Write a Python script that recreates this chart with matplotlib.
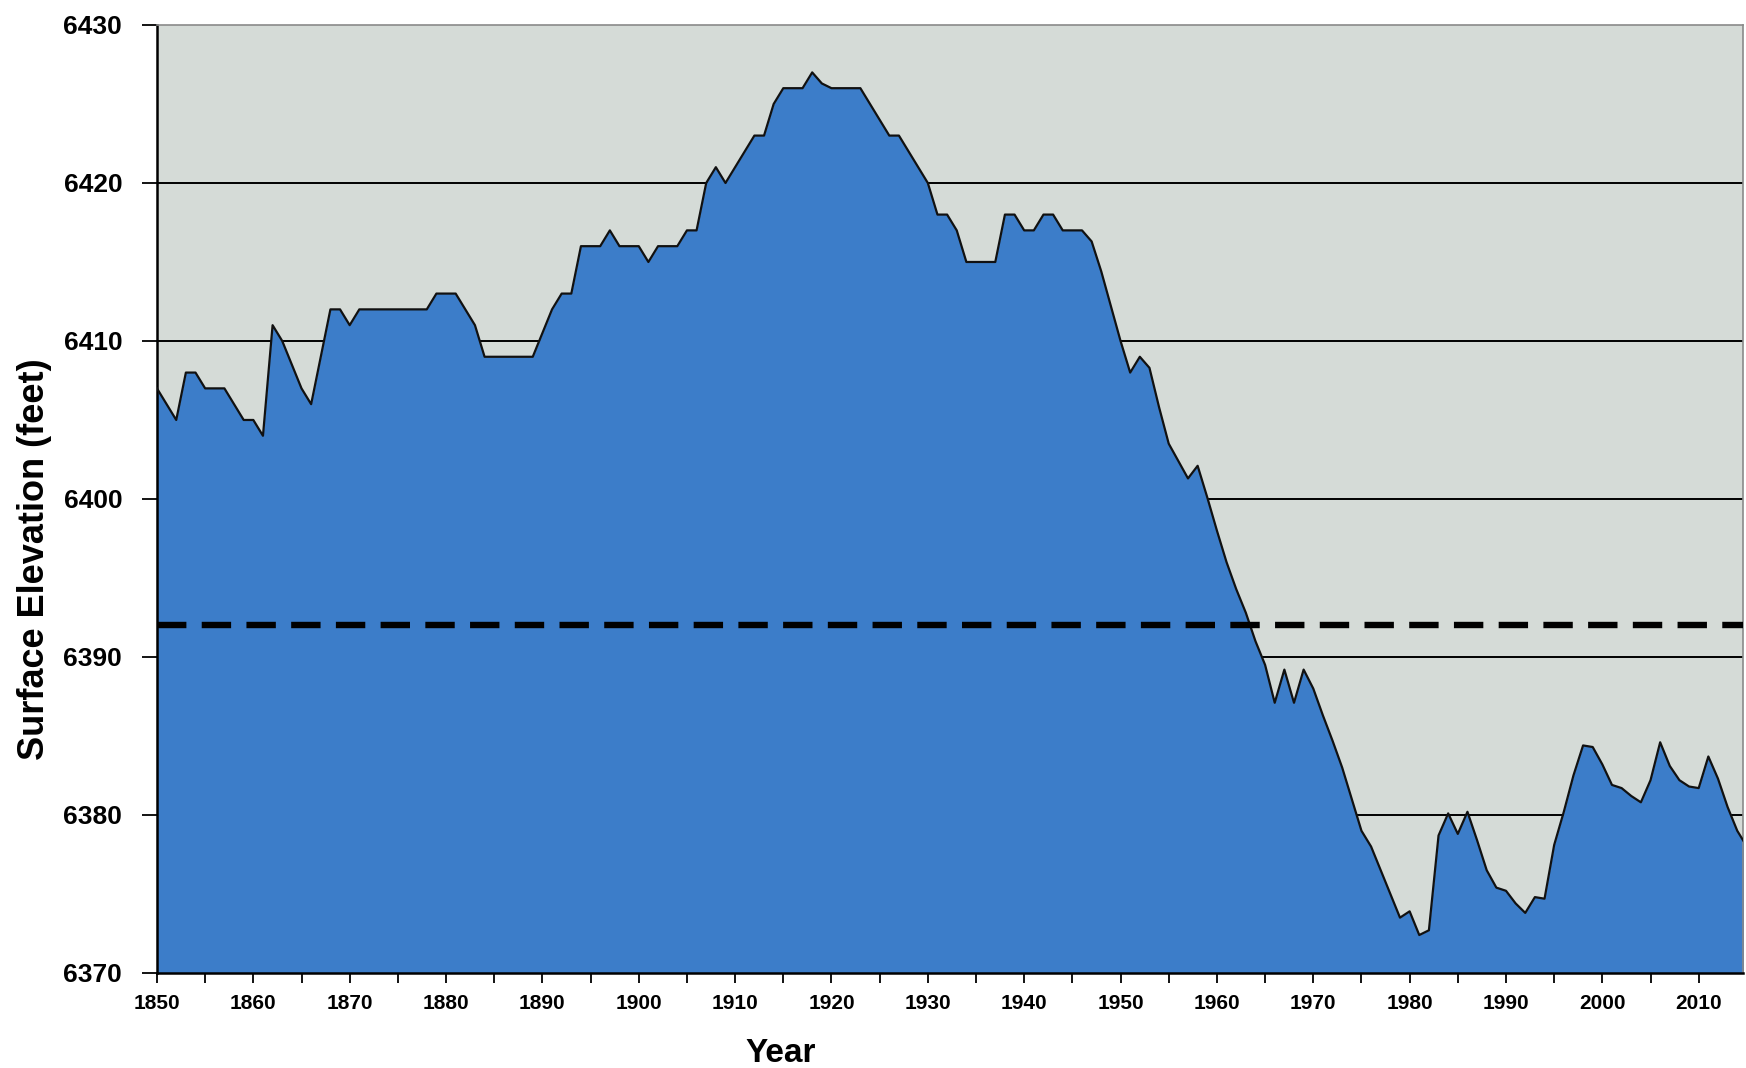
import matplotlib.pyplot as plt
from matplotlib.ticker import MultipleLocator

# annual surface elevation readings (feet)
years = list(range(1850, 2016))
elevation = [
    6407, 6406, 6405, 6408, 6408, 6407, 6407, 6407, 6406, 6405,      # 1850s
    6405, 6404, 6411, 6410, 6408.5, 6407, 6406, 6409, 6412, 6412,    # 1860s
    6411, 6412, 6412, 6412, 6412, 6412, 6412, 6412, 6412, 6413,      # 1870s
    6413, 6413, 6412, 6411, 6409, 6409, 6409, 6409, 6409, 6409,      # 1880s
    6410.5, 6412, 6413, 6413, 6416, 6416, 6416, 6417, 6416, 6416,    # 1890s
    6416, 6415, 6416, 6416, 6416, 6417, 6417, 6420, 6421, 6420,      # 1900s
    6421, 6422, 6423, 6423, 6425, 6426, 6426, 6426, 6427, 6426.3,    # 1910s
    6426, 6426, 6426, 6426, 6425, 6424, 6423, 6423, 6422, 6421,      # 1920s
    6420, 6418, 6418, 6417, 6415, 6415, 6415, 6415, 6418, 6418,      # 1930s
    6417, 6417, 6418, 6418, 6417, 6417, 6417, 6416.3, 6414.4, 6412.2,  # 1940s
    6410, 6408, 6409, 6408.3, 6405.8, 6403.5, 6402.4, 6401.3, 6402.1, 6400.1,  # 1950s
    6398, 6396, 6394.3, 6392.8, 6391, 6389.5, 6387.1, 6389.2, 6387.1, 6389.2,  # 1960s
    6388, 6386.3, 6384.7, 6383, 6381, 6379, 6378, 6376.5, 6375, 6373.5,        # 1970s
    6373.9, 6372.4, 6372.7, 6378.7, 6380.1, 6378.8, 6380.2, 6378.4, 6376.5, 6375.4,  # 1980s
    6375.2, 6374.4, 6373.8, 6374.8, 6374.7, 6378.1, 6380.2, 6382.5, 6384.4, 6384.3,  # 1990s
    6383.2, 6381.9, 6381.7, 6381.2, 6380.8, 6382.2, 6384.6, 6383.1, 6382.2, 6381.8,  # 2000s
    6381.7, 6383.7, 6382.3, 6380.5, 6379, 6378,                                      # 2010s
]
reference_level = 6392
grid_levels = [6380, 6390, 6400, 6410, 6420]

fig = plt.figure(figsize=(17.46, 10.68), dpi=100)
ax = fig.add_axes([0.0899, 0.089, 0.9084, 0.8876])
ax.set_facecolor("#d5dbd7")

# horizontal reference lines sit behind the water area
for lvl in grid_levels:
    ax.axhline(lvl, color="black", lw=1.4, zorder=1)

ax.fill_between(years, elevation, 6370, color="#3c7dc9", lw=0, zorder=2)
ax.plot(years, elevation, color="#111111", lw=1.6, zorder=3)

ax.axhline(reference_level, color="black", lw=4.6, linestyle=(0, (4.6, 2.4)), zorder=4)

ax.set_xlim(1850, 2014.6)
ax.set_ylim(6370, 6430)

ax.xaxis.set_major_locator(MultipleLocator(10))
ax.xaxis.set_minor_locator(MultipleLocator(5))
ax.yaxis.set_major_locator(MultipleLocator(10))

ax.tick_params(axis="x", which="both", direction="out", length=7, width=1.3, pad=8,
               labelsize=15, colors="black")
ax.tick_params(axis="y", direction="out", length=11, width=1.3, pad=14,
               labelsize=19)
for lab in ax.get_xticklabels() + ax.get_yticklabels():
    lab.set_fontweight("bold")
    lab.set_family(["Liberation Sans", "DejaVu Sans"])

for side in ["left", "bottom"]:
    ax.spines[side].set_color("black")
    ax.spines[side].set_linewidth(1.8)
for side in ["top", "right"]:
    ax.spines[side].set_color("#8a8a8a")
    ax.spines[side].set_linewidth(1.2)

fig.text(0.020, 0.476, "Surface Elevation (feet)", rotation=90, ha="center", va="center",
         fontsize=26, fontweight="bold", family=["Liberation Sans", "DejaVu Sans"])
fig.text(0.447, 0.014, "Year", ha="center", va="center",
         fontsize=24, fontweight="bold", family=["Liberation Sans", "DejaVu Sans"])

fig.savefig("out.png", dpi=100, facecolor="white")
